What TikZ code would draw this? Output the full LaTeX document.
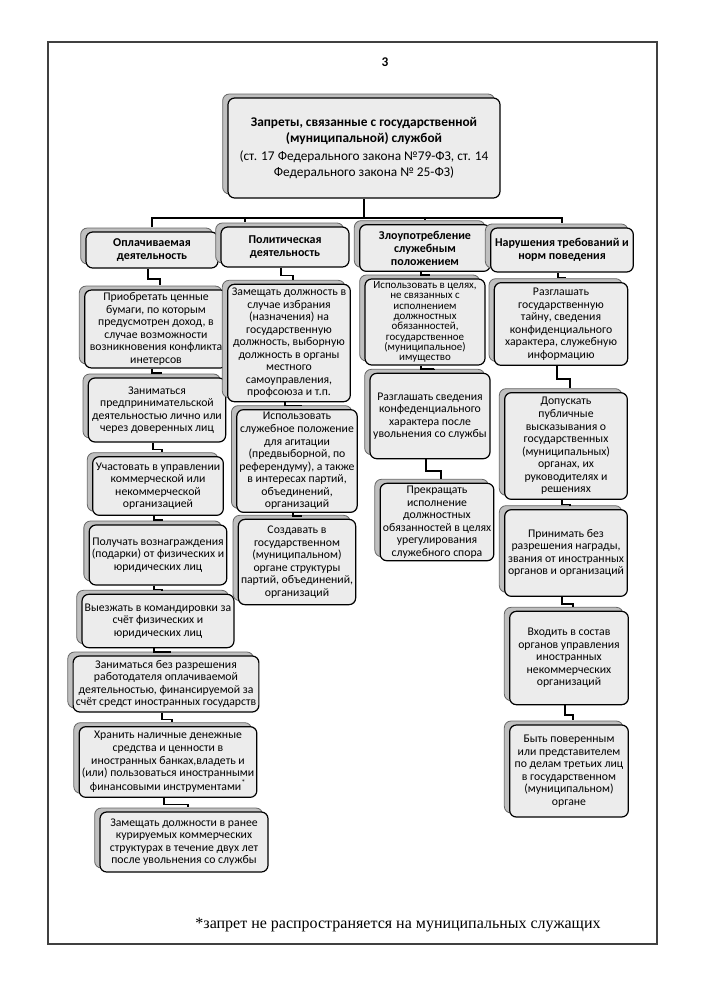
\documentclass[tikz,border=0pt]{standalone}
\usepackage{fontspec}
\setmainfont{Liberation Serif}
\newfontfamily\boxfont{Carlito}
\usepackage{tikz}
\usetikzlibrary{shadows,calc}
\tikzset{
  banbox/.style={draw=black, line width=0.9pt, rounded corners=5pt, fill=gray!15,
    align=center, inner sep=2pt, font=\boxfont\fontsize{8.8}{9.4}\selectfont,
    general shadow={fill=gray!50, draw=black!60, line width=0.6pt,
      shadow xshift=-4pt, shadow yshift=3pt}},
  headbox/.style={banbox, font=\boxfont\bfseries\fontsize{9}{9.8}\selectfont},
  link/.style={line width=1.1pt}
}

\begin{document}
\begin{tikzpicture}[x=0.75pt,y=-0.75pt]
  \useasboundingbox (0,0) rectangle (709,1000);
  \draw[line width=0.8pt, black!75] (48,42) rectangle (657,944);
  \node (pg) at (385,62) {\boxfont\bfseries\fontsize{10}{12}\selectfont 3};

  % top
  \node (top) [banbox, minimum width=204pt, minimum height=75pt,
    font=\boxfont\fontsize{10}{12}\selectfont] at (364,148)
    {\textbf{Запреты, связанные с государственной}\\\textbf{(муниципальной) службой}\\[2pt]
     (ст. 17 Федерального закона №79-ФЗ, ст. 14\\Федерального закона № 25-ФЗ)};

  % heads
  \node (h1) [headbox, minimum width=99pt, minimum height=27pt] at (152,250) {Оплачиваемая\\деятельность};
  \node (h2) [headbox, minimum width=96pt, minimum height=30pt] at (285,247) {Политическая\\деятельность};
  \node (h3) [headbox, minimum width=98pt, minimum height=35pt] at (425,248) {Злоупотребление\\служебным\\положением};
  \node (h4) [headbox, minimum width=107pt, minimum height=33pt] at (562,250) {Нарушения требований и\\норм поведения};

  % column 1
  \node (a1) [banbox, minimum width=107pt, minimum height=58pt] at (156,329)
    {Приобретать ценные\\бумаги, по которым\\предусмотрен доход, в\\случае возможности\\возникновения конфликта\\инетерсов};
  \node (a2) [banbox, minimum width=103pt, minimum height=48pt] at (157,410)
    {Заниматься\\предпринимательской\\деятельностью лично или\\через доверенных лиц};
  \node (a3) [banbox, minimum width=98pt, minimum height=44pt] at (158,486)
    {Участовать в управлении\\коммерческой или\\некоммерческой\\организацией};
  \node (a4) [banbox, minimum width=98pt, minimum height=45pt] at (158,555)
    {Получать вознаграждения\\(подарки) от физических и\\юридических лиц};
  \node (a5) [banbox, minimum width=98pt, minimum height=40pt] at (158,621)
    {Выезжать в командировки за\\счёт физических и\\юридических лиц};
  \node (a6) [banbox, minimum width=122pt, minimum height=42pt] at (166,684)
    {Заниматься без разрешения\\работодателя оплачиваемой\\деятельностью, финансируемой за\\счёт средст иностранных государств};
  \node (a7) [banbox, minimum width=124pt, minimum height=53pt] at (168,762)
    {Хранить наличные денежные\\средства и ценности в\\иностранных банках,владеть и\\(или) пользоваться иностранными\\финансовыми инструментами\textsuperscript{*}};
  \node (a8) [banbox, minimum width=126pt, minimum height=45pt] at (184,842)
    {Замещать должности в ранее\\курируемых коммерческих\\структурах в течение двух лет\\после увольнения со службы};

  % column 2
  \node (b1) [banbox, minimum width=92pt, minimum height=88pt] at (289,343)
    {Замещать должность в\\случае избрания\\(назначения) на\\государственную\\должность, выборную\\должность в органы\\местного\\самоуправления,\\профсоюза и т.п.};
  \node (b2) [banbox, minimum width=85pt, minimum height=77pt] at (297,461)
    {Использовать\\служебное положение\\для агитации\\(предвыборной, по\\референдуму), а также\\в интересах партий,\\объединений,\\организаций};
  \node (b3) [banbox, minimum width=85pt, minimum height=64pt] at (297,562)
    {Создавать в\\государственном\\(муниципальном)\\органе структуры\\партий, объединений,\\организаций};

  % column 3
  \node (c1) [banbox, minimum width=90pt, minimum height=64pt,
    font=\boxfont\fontsize{8.2}{7.7}\selectfont] at (425,322)
    {Использовать в целях,\\не связанных с\\исполнением\\должностных\\обязанностей,\\государственное\\(муниципальное)\\имущество};
  \node (c2) [banbox, minimum width=90pt, minimum height=64pt] at (430,416)
    {Разглашать сведения\\конфеденциального\\характера после\\увольнения со службы};
  \node (c3) [banbox, minimum width=80pt, minimum height=52pt] at (437,522)
    {Прекращать\\исполнение\\должностных\\обязанностей в целях\\урегулирования\\служебного спора};

  % column 4
  \node (d1) [banbox, minimum width=100pt, minimum height=62pt] at (561,324)
    {Разглашать\\государственную\\тайну, сведения\\конфиденциального\\характера, служебную\\информацию};
  \node (d2) [banbox, minimum width=92pt, minimum height=80pt] at (566,446)
    {Допускать\\публичные\\высказывания о\\государственных\\(муниципальных)\\органах, их\\руководителях и\\решениях};
  \node (d3) [banbox, minimum width=92pt, minimum height=65pt] at (566,553)
    {Принимать без\\разрешения награды,\\звания от иностранных\\органов и организаций};
  \node (d4) [banbox, minimum width=89pt, minimum height=70pt] at (569,658)
    {Входить в состав\\органов управления\\иностранных\\некоммерческих\\организаций};
  \node (d5) [banbox, minimum width=89pt, minimum height=69pt] at (569,771)
    {Быть поверенным\\или представителем\\по делам третьих лиц\\в государственном\\(муниципальном)\\органе};

  \node (note) at (398,925) {\fontsize{12}{14}\selectfont *запрет не распространяется на муниципальных служащих};

  % connectors
  \coordinate (bus) at (364,218);
  \draw[link] (top.south) -- (bus);
  \draw[link] ([yshift=3pt]h1.north) |- (bus) -| ([yshift=3pt]h4.north);
  \draw[link] (bus) -| ([xshift=-30pt,yshift=3pt]h2.north);
  \draw[link] (bus) -| ([yshift=3pt]h3.north);

  \draw[link] ([xshift=-3pt]h1.south) |- ($(h1.south)!.5!(a1.north)$) -| ([xshift=3pt,yshift=3pt]a1.north);
  \draw[link] ([xshift=-3pt]a1.south) |- ($(a1.south)!.5!(a2.north)$) -| ([xshift=3pt,yshift=3pt]a2.north);
  \draw[link] ([xshift=-3pt]a2.south) |- ($(a2.south)!.5!(a3.north)$) -| ([xshift=3pt,yshift=3pt]a3.north);
  \draw[link] ([xshift=-3pt]a3.south) |- ($(a3.south)!.5!(a4.north)$) -| ([xshift=3pt,yshift=3pt]a4.north);
  \draw[link] ([xshift=-3pt]a4.south) |- ($(a4.south)!.5!(a5.north)$) -| ([xshift=3pt,yshift=3pt]a5.north);
  \draw[link] ([xshift=-3pt]a5.south) |- ($(a5.south)!.5!(a6.north)$) -| ([xshift=3pt,yshift=3pt]a6.north);
  \draw[link] ([xshift=-3pt]a6.south) |- ($(a6.south)!.5!(a7.north)$) -| ([xshift=3pt,yshift=3pt]a7.north);
  \draw[link] ([xshift=-3pt]a7.south) |- ($(a7.south)!.5!(a8.north)$) -| ([xshift=3pt,yshift=3pt]a8.north);

  \draw[link] ([xshift=-3pt]h2.south) |- ($(h2.south)!.5!(b1.north)$) -| ([xshift=3pt,yshift=3pt]b1.north);
  \draw[link] ([xshift=-3pt]b1.south) |- ($(b1.south)!.5!(b2.north)$) -| ([xshift=3pt,yshift=3pt]b2.north);
  \draw[link] ([xshift=-3pt]b2.south) |- ($(b2.south)!.5!(b3.north)$) -| ([xshift=3pt,yshift=3pt]b3.north);

  \draw[link] ([xshift=-3pt]h3.south) |- ($(h3.south)!.5!(c1.north)$) -| ([xshift=3pt,yshift=3pt]c1.north);
  \draw[link] ([xshift=-3pt]c1.south) |- ($(c1.south)!.5!(c2.north)$) -| ([xshift=3pt,yshift=3pt]c2.north);
  \draw[link] ([xshift=-3pt]c2.south) |- ($(c2.south)!.5!(c3.north)$) -| ([xshift=3pt,yshift=3pt]c3.north);

  \draw[link] ([xshift=-3pt]h4.south) |- ($(h4.south)!.5!(d1.north)$) -| ([xshift=3pt,yshift=3pt]d1.north);
  \draw[link] ([xshift=-3pt]d1.south) |- ($(d1.south)!.5!(d2.north)$) -| ([xshift=3pt,yshift=3pt]d2.north);
  \draw[link] ([xshift=-3pt]d2.south) |- ($(d2.south)!.5!(d3.north)$) -| ([xshift=3pt,yshift=3pt]d3.north);
  \draw[link] ([xshift=-3pt]d3.south) |- ($(d3.south)!.5!(d4.north)$) -| ([xshift=3pt,yshift=3pt]d4.north);
  \draw[link] ([xshift=-3pt]d4.south) |- ($(d4.south)!.5!(d5.north)$) -| ([xshift=3pt,yshift=3pt]d5.north);
\end{tikzpicture}
\end{document}
